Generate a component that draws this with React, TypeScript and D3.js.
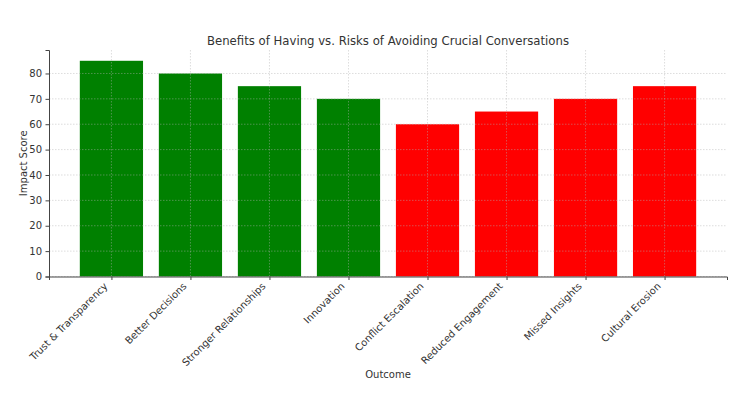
import React, { useEffect, useRef } from 'react';
import * as d3 from 'd3';

const outcomes = [
  'Trust & Transparency',
  'Better Decisions',
  'Stronger Relationships',
  'Innovation',
  'Conflict Escalation',
  'Reduced Engagement',
  'Missed Insights',
  'Cultural Erosion',
];
const scores = [85, 80, 75, 70, 60, 65, 70, 75];
const barColors = ['green', 'green', 'green', 'green', 'red', 'red', 'red', 'red'];
const yTicks = [0, 10, 20, 30, 40, 50, 60, 70, 80];

export default function App() {
  const svgRef = useRef<SVGSVGElement>(null);

  useEffect(() => {
    if (!svgRef.current) return;
    const root = d3.select(svgRef.current);
    root.selectAll('*').remove();

    const margin = { top: 50, right: 23, bottom: 118.5, left: 49 };
    const width = 750 - margin.left - margin.right;
    const height = 395 - margin.top - margin.bottom;
    const font = 'DejaVu Sans, sans-serif';
    const textColor = '#333';

    const svg = root.append('g').attr('transform', `translate(${margin.left},${margin.top})`);

    // matplotlib-like limits: bars at integer positions, width 0.8, 5% margins
    const n = outcomes.length;
    const xMin = -0.4 - 0.05 * (n - 1 + 0.8);
    const xMax = n - 1 + 0.4 + 0.05 * (n - 1 + 0.8);
    const x = d3.scaleLinear().domain([xMin, xMax]).range([0, width]);
    const y = d3.scaleLinear().domain([0, d3.max(scores)! * 1.05]).range([height, 0]);

    // Bars
    svg
      .selectAll('rect.bar')
      .data(scores)
      .enter()
      .append('rect')
      .attr('class', 'bar')
      .attr('x', (_, i) => x(i - 0.4))
      .attr('width', x(0.8) - x(0))
      .attr('y', d => y(d))
      .attr('height', d => height - y(d))
      .attr('fill', (_, i) => barColors[i]);

    // Grid (drawn over bars)
    const grid = svg.append('g').attr('stroke', '#b0b0b0').attr('stroke-opacity', 0.55).attr('stroke-width', 0.8).attr('stroke-dasharray', '1.5,1.5');
    yTicks.forEach(t => {
      grid.append('line').attr('x1', 0).attr('x2', width).attr('y1', y(t)).attr('y2', y(t));
    });
    outcomes.forEach((_, i) => {
      grid.append('line').attr('x1', x(i)).attr('x2', x(i)).attr('y1', 0).attr('y2', height);
    });

    // Y axis
    const yAxis = svg
      .append('g')
      .call(d3.axisLeft(y).tickValues(yTicks).tickSize(3.5).tickPadding(3.5));
    yAxis.select('.domain').attr('stroke', '#444').attr('stroke-width', 1);
    yAxis.selectAll('.tick line').attr('stroke', '#444');
    yAxis.selectAll('text').attr('fill', textColor).style('font-family', font).style('font-size', '10px');

    // X axis
    const xAxis = svg
      .append('g')
      .attr('transform', `translate(0,${height})`)
      .call(
        d3.axisBottom(x)
          .tickValues(d3.range(n))
          .tickSize(3.5)
          .tickFormat(i => outcomes[i as number])
      );
    xAxis.select('.domain').attr('stroke', '#444').attr('stroke-width', 1);
    xAxis.selectAll('.tick line').attr('stroke', '#444');
    xAxis
      .selectAll('text')
      .attr('fill', textColor)
      .style('font-family', font)
      .style('font-size', '10px')
      .attr('text-anchor', 'end')
      .attr('x', 0)
      .attr('y', 0)
      .attr('dy', '0.75em')
      .attr('transform', 'translate(-9,5) rotate(-45)');

    // Labels
    svg
      .append('text')
      .attr('x', width / 2)
      .attr('y', -5)
      .attr('text-anchor', 'middle')
      .attr('fill', textColor)
      .style('font-family', font)
      .style('font-size', '11.7px')
      .text('Benefits of Having vs. Risks of Avoiding Crucial Conversations');

    svg
      .append('text')
      .attr('x', width / 2)
      .attr('y', height + 101.5)
      .attr('text-anchor', 'middle')
      .attr('fill', textColor)
      .style('font-family', font)
      .style('font-size', '10px')
      .text('Outcome');

    svg
      .append('text')
      .attr('transform', `translate(-22,${height / 2}) rotate(-90)`)
      .attr('text-anchor', 'middle')
      .attr('fill', textColor)
      .style('font-family', font)
      .style('font-size', '10px')
      .text('Impact Score');
  }, []);

  return (
    <svg
      ref={svgRef}
      width={750}
      height={395}
      style={{ position: 'absolute', left: 0, top: 0, background: 'white' }}
    />
  );
}
